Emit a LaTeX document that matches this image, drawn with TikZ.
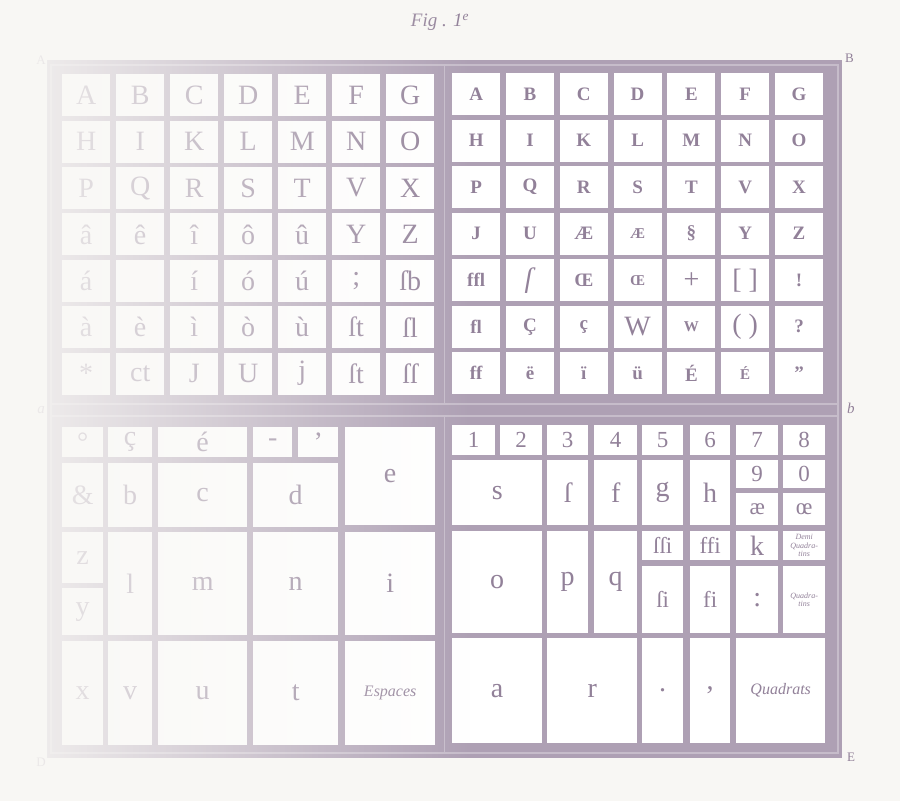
\documentclass[tikz,border=0pt]{standalone}
\usepackage{fontspec}
\setmainfont{Liberation Serif}
\usetikzlibrary{fadings}

\definecolor{papier}{RGB}{248,247,244}
\definecolor{bois}{RGB}{174,160,180}
\definecolor{moulure}{RGB}{198,188,202}
\definecolor{encre}{RGB}{146,129,153}

\tikzfading[name=fondu, left color=transparent!4, right color=transparent!100]

\newcommand{\petit}[1]{{\fontsize{15}{15}\selectfont #1}}
\newcommand{\grand}[1]{{\fontsize{28}{28}\selectfont\mdseries #1}}

\tikzset{
  cassetin/.style={fill=white, inner sep=0pt, anchor=north west, text=encre},
  capitale/.style={cassetin, minimum width=48pt, minimum height=42pt, font=\fontsize{28}{28}\selectfont},
  grasse/.style={cassetin, minimum width=48pt, minimum height=42pt, font=\fontsize{19}{19}\selectfont\bfseries},
  bas/.style={cassetin, font=\fontsize{28}{28}\selectfont},
  chiffre/.style={cassetin, font=\fontsize{23}{23}\selectfont},
  mention/.style={cassetin, font=\fontsize{16}{16}\selectfont\itshape},
  note/.style={cassetin, align=center, font=\fontsize{8}{8.5}\selectfont\itshape},
  repere/.style={text=encre, inner sep=1pt, font=\fontsize{13}{13}\selectfont}
}

\newcommand{\boite}[6][bas]{\node[#1, minimum width=#4pt, minimum height=#5pt] (#2) at (#3) {#6};}

\begin{document}
\begin{tikzpicture}[x=1pt, y=-1pt]
  \useasboundingbox (0,0) rectangle (900,801);
  \fill[papier] (0,0) rectangle (900,801);
  % frame
  \fill[bois] (47,60) rectangle (842,758);
  \draw[moulure, line width=1.2pt] (51,65) rectangle (838,753);
  \draw[moulure, line width=1.2pt] (51,404) -- (838,404) (51,416) -- (838,416);
  \draw[moulure, line width=1pt] (444,65) -- (444,404) (444,416) -- (444,753);
  % haut de casse, left
  \foreach \ligne [count=\r] in {{A,B,C,D,E,F,G},{H,I,K,L,M,N,O},{P,Q,R,S,T,V,X},
      {â,ê,î,ô,û,Y,Z},{á,{},í,ó,ú,;,ſb},{à,è,ì,ò,ù,ſt,ſl},{*,ct,J,U,j,ſt,ſſ}}
    \foreach \ch [count=\c] in \ligne
      \node[capitale] (hg-\r-\c) at ({62+(\c-1)*54},{74+(\r-1)*46.4}) {\ch};
  % haut de casse, right
  \foreach \ligne [count=\r] in {{A,B,C,D,E,F,G},{H,I,K,L,M,N,O},{P,Q,R,S,T,V,X},
      {J,U,Æ,\petit{Æ},§,Y,Z},{ffl,\grand{\textit{ſ}},Œ,\petit{Œ},\grand{+},\grand{\lbrack\ \rbrack},!},
      {fl,Ç,ç,\grand{W},\petit{W},\grand{(\ )},?},{ff,ë,ï,ü,É,\petit{É},”}}
    \foreach \ch [count=\c] in \ligne
      \node[grasse] (hd-\r-\c) at ({452+(\c-1)*53.8},{73+(\r-1)*46.5}) {\ch};
  % bas de casse, left
  \boite{deg}{62,427}{41}{30}{°}
  \boite{cced}{108,427}{44}{30}{ç}
  \boite{eacute}{158,427}{89}{30}{é}
  \boite{tiret}{253,427}{39}{30}{-}
  \boite{apos}{298,427}{40}{30}{’}
  \boite{e}{345,427}{90}{98}{e}
  \boite{et}{62,463}{41}{64}{\&}
  \boite{b}{108,463}{44}{64}{b}
  \boite{c}{158,463}{89}{64}{c}
  \boite{d}{253,463}{85}{64}{d}
  \boite{z}{62,532}{41}{51}{z}
  \boite{y}{62,588}{41}{47}{y}
  \boite{l}{108,532}{44}{103}{l}
  \boite{m}{158,532}{89}{103}{m}
  \boite{n}{253,532}{85}{103}{n}
  \boite{i}{345,532}{90}{103}{i}
  \boite{x}{62,641}{41}{104}{x}
  \boite{v}{108,641}{44}{104}{v}
  \boite{u}{158,641}{89}{104}{u}
  \boite{t}{253,641}{85}{104}{t}
  \boite[mention]{espaces}{345,641}{90}{104}{Espaces}
  % bas de casse, right
  \boite[chiffre]{un}{452,425}{43}{30}{1}
  \boite[chiffre]{deux}{500,425}{42}{30}{2}
  \boite[chiffre]{trois}{547,425}{41}{30}{3}
  \boite[chiffre]{quatre}{594,425}{43}{30}{4}
  \boite[chiffre]{cinq}{642,425}{41}{30}{5}
  \boite[chiffre]{six}{690,425}{40}{30}{6}
  \boite[chiffre]{sept}{736,425}{42}{30}{7}
  \boite[chiffre]{huit}{783,425}{42}{30}{8}
  \boite{s}{452,460}{90}{65}{s}
  \boite{slong}{547,460}{41}{65}{ſ}
  \boite{f}{594,460}{43}{65}{f}
  \boite{g}{642,460}{41}{65}{g}
  \boite{h}{690,460}{40}{65}{h}
  \boite[chiffre]{neuf}{736,460}{42}{28}{9}
  \boite[chiffre]{zero}{783,460}{42}{28}{0}
  \boite[chiffre]{ae}{736,493}{42}{32}{æ}
  \boite[chiffre]{oe}{783,493}{42}{32}{œ}
  \boite{o}{452,531}{90}{102}{o}
  \boite{p}{547,531}{41}{102}{p}
  \boite{q}{594,531}{43}{102}{q}
  \boite[chiffre]{ssi}{642,531}{41}{29}{ſſi}
  \boite[chiffre]{ffi}{690,531}{40}{29}{ffi}
  \boite{k}{736,531}{42}{29}{k}
  \boite[note]{demiquad}{783,531}{42}{29}{Demi\\Quadra-\\tins}
  \boite[chiffre]{si}{642,566}{41}{67}{ſi}
  \boite[chiffre]{fi}{690,566}{40}{67}{fi}
  \boite{deuxpts}{736,566}{42}{67}{:}
  \boite[note]{quadratins}{783,566}{42}{67}{Quadra-\\tins}
  \boite{a}{452,638}{90}{105}{a}
  \boite{r}{547,638}{90}{105}{r}
  \boite{point}{642,638}{41}{105}{.}
  \boite{virgule}{690,638}{40}{105}{,}
  \boite[mention]{quadrats}{736,638}{89}{105}{Quadrats}
  % letters round the case
  \node[repere, anchor=east] (lA) at (47,60) {A};
  \node[repere, anchor=west] (lB) at (844,58) {B};
  \node[repere, anchor=east, font=\fontsize{15}{15}\selectfont\itshape] (la) at (46,410) {a};
  \node[repere, anchor=west, font=\fontsize{15}{15}\selectfont\itshape] (lb) at (846,408) {b};
  \node[repere, anchor=east] (lD) at (47,762) {D};
  \node[repere, anchor=west] (lE) at (846,757) {E};
  \node[repere, font=\fontsize{19}{19}\selectfont\itshape] (fig) at (440,22) {Fig . 1\textsuperscript{e}};
  % fading towards the left
  \fill[papier, path fading=fondu] (0,0) rectangle (470,801);
\end{tikzpicture}
\end{document}
